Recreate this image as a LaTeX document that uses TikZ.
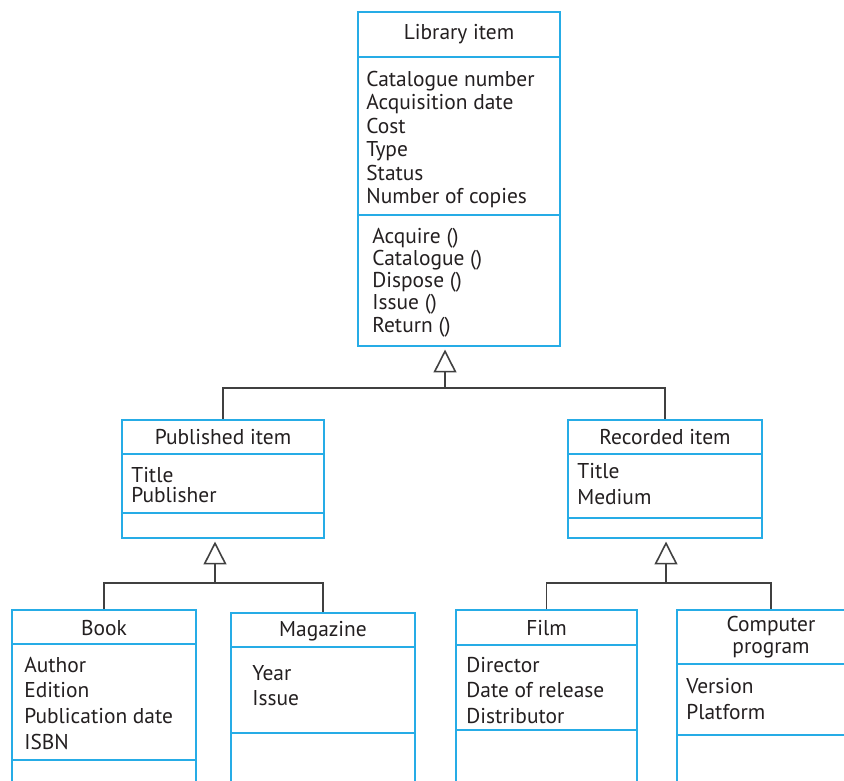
\documentclass[tikz,border=0pt]{standalone}
\usepackage{fontspec}
\setmainfont{PT Sans}
\usetikzlibrary{arrows.meta,fit}

\definecolor{umlblue}{RGB}{38,172,230}
\definecolor{umltext}{RGB}{35,31,32}

\begin{document}
\begin{tikzpicture}[x=0.02cm, y=-0.02cm, text=umltext,
	cls/.style={draw=umlblue, line width=1pt, inner sep=0pt},
	sepline/.style={umlblue, line width=1pt},
	head/.style={anchor=base, inner sep=0pt, align=center, font=\fontsize{12.2pt}{12.5pt}\selectfont},
	attr/.style={anchor=base west, inner sep=0pt, align=left, font=\fontsize{12.2pt}{#1}\selectfont},
	conn/.style={black!75, line width=0.9pt},
	gen/.style={conn, -{Triangle[open, length=13pt, width=13pt]}, shorten >=1.5pt}]
	\path[use as bounding box] (0,0) rectangle (844,780);
	\clip (0,0) rectangle (844,780);

	% library item
	\node[cls, fit={(358,12) (560,346)}] (lib) {};
	\draw[sepline] (lib.west |- 0,57) -- (lib.east |- 0,57);
	\draw[sepline] (lib.west |- 0,215) -- (lib.east |- 0,215);
	\node[head] (libT) at (lib.north |- 0,40) {Library item};
	\node[attr=13.4pt] (libA) at (366,204) {Catalogue number\\Acquisition date\\Cost\\Type\\Status\\Number of copies};
	\node[attr=12.6pt] (libO) at (372,332) {Acquire ()\\Catalogue ()\\Dispose ()\\Issue ()\\Return ()};

	% published and recorded
	\node[cls, fit={(122,420) (324,538)}] (pub) {};
	\draw[sepline] (pub.west |- 0,454) -- (pub.east |- 0,454);
	\draw[sepline] (pub.west |- 0,513) -- (pub.east |- 0,513);
	\node[head] (pubT) at (pub.north |- 0,444) {Published item};
	\node[attr=11.3pt] (pubA) at (131,502) {Title\\Publisher};

	\node[cls, fit={(568,420) (762,538)}] (rec) {};
	\draw[sepline] (rec.west |- 0,454) -- (rec.east |- 0,454);
	\draw[sepline] (rec.west |- 0,518) -- (rec.east |- 0,518);
	\node[head] (recT) at (rec.north |- 0,444) {Recorded item};
	\node[attr=14.7pt] (recA) at (577,504) {Title\\Medium};

	% bottom row
	\node[cls, fit={(12,610) (196,800)}] (book) {};
	\draw[sepline] (book.west |- 0,644) -- (book.east |- 0,644);
	\draw[sepline] (book.west |- 0,760) -- (book.east |- 0,760);
	\node[head] (bookT) at (book.north |- 0,635) {Book};
	\node[attr=14.6pt] (bookA) at (24,749) {Author\\Edition\\Publication date\\ISBN};

	\node[cls, fit={(231,613) (415,800)}] (mag) {};
	\draw[sepline] (mag.west |- 0,647) -- (mag.east |- 0,647);
	\draw[sepline] (mag.west |- 0,733) -- (mag.east |- 0,733);
	\node[head] (magT) at (mag.north |- 0,636) {Magazine};
	\node[attr=14.2pt] (magA) at (252,705) {Year\\Issue};

	\node[cls, fit={(456,610) (637,800)}] (film) {};
	\draw[sepline] (film.west |- 0,645) -- (film.east |- 0,645);
	\draw[sepline] (film.west |- 0,730) -- (film.east |- 0,730);
	\node[head] (filmT) at (film.north |- 0,635) {Film};
	\node[attr=14.5pt] (filmA) at (466,723) {Director\\Date of release\\Distributor};

	\node[cls, fit={(677,610) (865,800)}] (comp) {};
	\draw[sepline] (comp.west |- 0,664) -- (comp.east |- 0,664);
	\draw[sepline] (comp.west |- 0,735) -- (comp.east |- 0,735);
	\node[head] (compT) at (comp.north |- 0,653) {Computer\\program};
	\node[attr=14.7pt] (compA) at (686,719) {Version\\Platform};

	% generalisation
	\coordinate (libJ) at (445,388);
	\coordinate (pubJ) at (215,583);
	\coordinate (recJ) at (666,583);
	\draw[conn] (pub.north) |- (libJ) -| (rec.north);
	\draw[gen] (libJ) -- (libJ |- lib.south);
	\draw[conn] (book.north) |- (pubJ) -| (mag.north);
	\draw[gen] (pubJ) -- (pubJ |- pub.south);
	\draw[conn] (film.north) |- (recJ) -| (comp.north);
	\draw[gen] (recJ) -- (recJ |- rec.south);
\end{tikzpicture}
\end{document}
